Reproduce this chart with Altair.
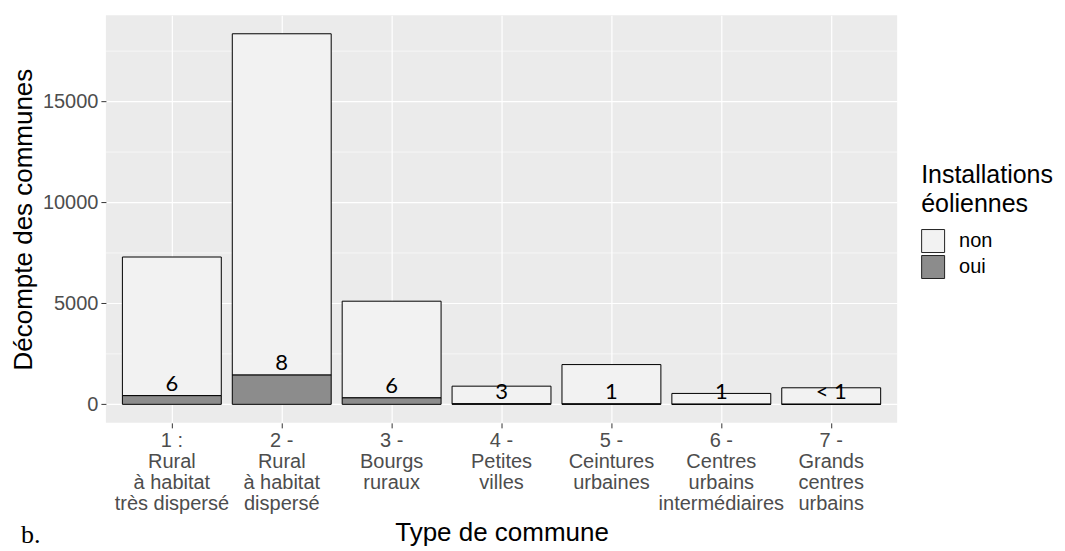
import altair as alt
import pandas as pd

# ---- data ----
categories = [
    "1 :\nRural\nà habitat\ntrès dispersé",
    "2 -\nRural\nà habitat\ndispersé",
    "3 -\nBourgs\nruraux",
    "4 -\nPetites\nvilles",
    "5 -\nCeintures\nurbaines",
    "6 -\nCentres\nurbains\nintermédiaires",
    "7 -\nGrands\ncentres\nurbains",
]
non_counts = [6870, 16910, 4790, 873, 1950, 535, 816]
oui_counts = [430, 1450, 320, 27, 20, 5, 4]
pct_labels = ["6", "8", "6", "3", "1", "1", "< 1"]
status_levels = ["non", "oui"]
major_ticks = [0, 5000, 10000, 15000]
minor_ticks = [2500, 7500, 12500, 17500]

rows = []
for c, a, b in zip(categories, non_counts, oui_counts):
    rows.append({"cat": c, "status": "non", "n": a})
    rows.append({"cat": c, "status": "oui", "n": b})
bars_df = pd.DataFrame(rows)
text_df = pd.DataFrame({"cat": categories, "n": oui_counts, "label": pct_labels})
minor_df = pd.DataFrame({"n": minor_ticks})
note_df = pd.DataFrame({"t": ["b."]})

ymax = max(a + b for a, b in zip(non_counts, oui_counts))
yscale = alt.Scale(domain=[-0.05 * ymax, 1.05 * ymax], nice=False, zero=False)
xscale = alt.Scale(paddingInner=0.1, paddingOuter=0.15)

FONT = "Liberation Sans"

x_axis = alt.Axis(
    title="Type de commune", labelAngle=0,
    labelExpr="split(datum.label, '\\n')",
    labelLineHeight=21, labelOverlap=False, labelLimit=0,
    bandPosition=0.5, grid=True, gridColor="white", gridWidth=1.2,
    tickColor="#333333", tickSize=5, labelPadding=3,
    labelFontSize=20, labelColor="#4D4D4D", labelBaseline="top",
    titleFontSize=26, titlePadding=6, titleColor="black",
    titleFontWeight="normal",
)
y_axis = alt.Axis(
    title="Décompte des communes", values=major_ticks, format="d",
    grid=True, gridColor="white", gridWidth=1.2,
    tickColor="#333333", tickSize=5, labelPadding=3,
    labelFontSize=20, labelColor="#4D4D4D",
    titleFontSize=26, titlePadding=6, titleColor="black",
    titleFontWeight="normal",
)

x_enc = alt.X("cat:N", sort=categories, scale=xscale, axis=x_axis)

minor = alt.Chart(minor_df).mark_rule(color="white", strokeWidth=0.6).encode(
    y=alt.Y("n:Q", scale=yscale, axis=y_axis)
)

bars = alt.Chart(bars_df).mark_bar(stroke="black", strokeWidth=1).transform_calculate(
    rank="datum.status == 'oui' ? 0 : 1"
).encode(
    x=x_enc,
    y=alt.Y("n:Q", scale=yscale, stack="zero", axis=y_axis),
    fill=alt.Fill(
        "status:N",
        scale=alt.Scale(domain=status_levels, range=["#F2F2F2", "#8C8C8C"]),
        legend=alt.Legend(
            title=["Installations", "éoliennes"], orient="none",
            legendX=816, legendY=148, padding=0,
            titleFontSize=25, titleLineHeight=29, titleFont=FONT,
            titleFontWeight="normal", titleColor="black", titlePadding=12,
            labelFontSize=20, labelFont=FONT, labelColor="black", labelOffset=14,
            symbolType="square", symbolSize=529, symbolStrokeColor="#222222",
            symbolStrokeWidth=1, rowPadding=-3,
        ),
    ),
    order=alt.Order("rank:Q", sort="ascending"),
)

texts = alt.Chart(text_df).mark_text(
    baseline="alphabetic", dy=-5, font="Lato", fontSize=22, color="black"
).encode(
    x=alt.X("cat:N", sort=categories, scale=xscale, axis=x_axis),
    y=alt.Y("n:Q", scale=yscale, axis=y_axis),
    text="label:N",
)

note = alt.Chart(note_df).mark_text(
    font="Liberation Serif", fontSize=26, align="left", baseline="alphabetic", color="black"
).encode(x=alt.value(-85), y=alt.value(528), text="t:N")

chart = alt.layer(minor, bars, texts, note).properties(
    width=792, height=408,
    autosize=alt.AutoSizeParams(type="none"),
    padding={"left": 98, "top": 7, "right": 160, "bottom": 126},
).configure_view(
    fill="#EBEBEB", stroke=None
).configure_axis(
    domain=False, labelFont=FONT, titleFont=FONT
)

chart.save("out.html", embed_options={"renderer": "svg", "actions": False})
